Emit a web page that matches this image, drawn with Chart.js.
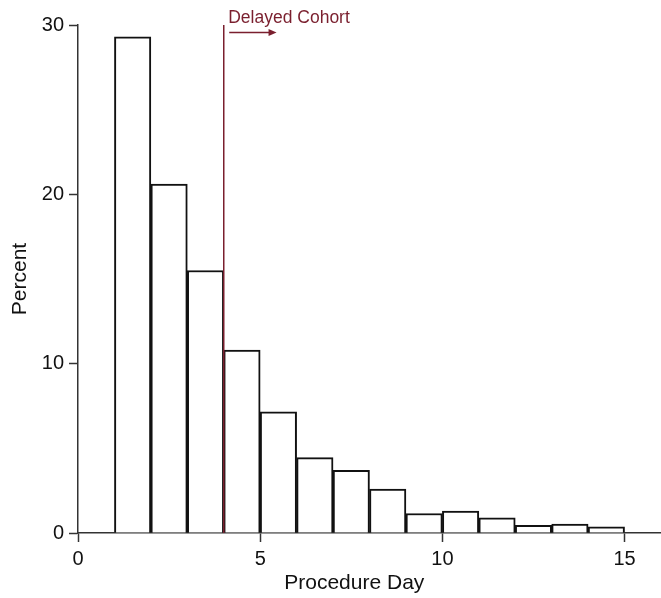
<!DOCTYPE html>
<html>
<head>
<meta charset="utf-8">
<script src="https://cdn.jsdelivr.net/npm/chart.js@4"></script>
<style>
  html, body { margin: 0; padding: 0; background: #fff; }
  #wrap { width: 661px; height: 598px; }
</style>
</head>
<body>
<div id="wrap"><canvas id="hist" width="661" height="598"></canvas></div>
<script>
// bin centres (day 1-2 is centred at 1.5 etc.)
var days = [1.5, 2.5, 3.5, 4.5, 5.5, 6.5, 7.5, 8.5, 9.5, 10.5, 11.5, 12.5, 13.5, 14.5];
var percent = [29.3, 20.6, 15.5, 10.8, 7.15, 4.45, 3.7, 2.6, 1.15, 1.3, 0.9, 0.45, 0.52, 0.37];
var xTicks = [0, 5, 10, 15];
var yTicks = [0, 10, 20, 30];
var cutoffDay = 4;
var cohortLabel = "Delayed Cohort";
var xTitle = "Procedure Day";

var red = "#7a1f2e";
var axisCol = "#333";
var fontFam = "'Liberation Sans', Arial, sans-serif";

var points = [];
for (let i = 0; i < days.length; i++) {
  points.push({ x: days[i], y: percent[i] });
}

// vertical cutoff line + label + arrow, and the x title (centred on the tick range, not the whole axis)
var cohortMarker = {
  id: "cohortMarker",
  afterDatasetsDraw: function (chart) {
    const ctx = chart.ctx;
    const xs = chart.scales.x;
    const ys = chart.scales.y;
    const px = xs.getPixelForValue(cutoffDay);
    ctx.save();
    ctx.strokeStyle = red;
    ctx.lineWidth = 1.5;
    ctx.beginPath();
    ctx.moveTo(px, ys.getPixelForValue(0));
    ctx.lineTo(px, ys.getPixelForValue(30));
    ctx.stroke();

    // arrow
    const ay = ys.getPixelForValue(29.55);
    const ax0 = xs.getPixelForValue(cutoffDay + 0.15);
    const ax1 = xs.getPixelForValue(cutoffDay + 1.45);
    ctx.beginPath();
    ctx.moveTo(ax0, ay);
    ctx.lineTo(ax1 - 6, ay);
    ctx.stroke();
    ctx.fillStyle = red;
    ctx.beginPath();
    ctx.moveTo(ax1, ay);
    ctx.lineTo(ax1 - 8, ay - 3.5);
    ctx.lineTo(ax1 - 8, ay + 3.5);
    ctx.closePath();
    ctx.fill();

    ctx.font = "17.5px " + fontFam;
    ctx.textAlign = "left";
    ctx.textBaseline = "middle";
    ctx.fillText(cohortLabel, ax0 - 1, ys.getPixelForValue(30) - 7);

    // x axis title
    ctx.fillStyle = "#111";
    ctx.font = "21px " + fontFam;
    ctx.textAlign = "center";
    const mid = (xTicks[0] + xTicks[xTicks.length - 1]) / 2;
    ctx.fillText(xTitle, xs.getPixelForValue(mid) + 3, xs.bottom - 15);
    ctx.restore();
  }
};

const hist = document.getElementById("hist").getContext("2d");
const myHist = new Chart(hist, {
  type: "bar",
  data: {
    datasets: [
      {
        data: points,
        backgroundColor: "#ffffff",
        borderColor: "#111111",
        borderWidth: 2,
        barPercentage: 1.0,
        categoryPercentage: 1.0,
      },
    ],
  },
  options: {
    responsive: false,
    animation: false,
    layout: { padding: { top: 25, right: 0, left: 0, bottom: 0 } },
    plugins: {
      legend: { display: false },
      tooltip: { enabled: false },
    },
    scales: {
      x: {
        type: "linear",
        min: 0,
        max: 16,
        offset: false,
        afterBuildTicks: function (scale) {
          scale.ticks = xTicks.map(function (v) { return { value: v }; });
        },
        afterFit: function (scale) { scale.height = 65; },
        grid: { offset: false, drawOnChartArea: false, tickLength: 9, tickColor: axisCol, tickWidth: 1.5 },
        border: { color: axisCol, width: 1.5 },
        ticks: {
          color: "#111",
          padding: 5,
          maxRotation: 0,
          font: { family: fontFam, size: 20 },
        },
        title: { display: false },
      },
      y: {
        min: 0,
        max: 30,
        afterBuildTicks: function (scale) {
          scale.ticks = yTicks.map(function (v) { return { value: v }; });
        },
        afterFit: function (scale) { scale.width = 78; },
        grid: { drawOnChartArea: false, tickLength: 9, tickColor: axisCol, tickWidth: 1.5 },
        border: { color: axisCol, width: 1.5 },
        ticks: {
          color: "#111",
          padding: 5,
          font: { family: fontFam, size: 20 },
        },
        title: {
          display: true,
          text: "Percent",
          color: "#111",
          padding: { top: 7.5, bottom: 4 },
          font: { family: fontFam, size: 21 },
        },
      },
    },
  },
  plugins: [cohortMarker],
});
</script>
</body>
</html>
